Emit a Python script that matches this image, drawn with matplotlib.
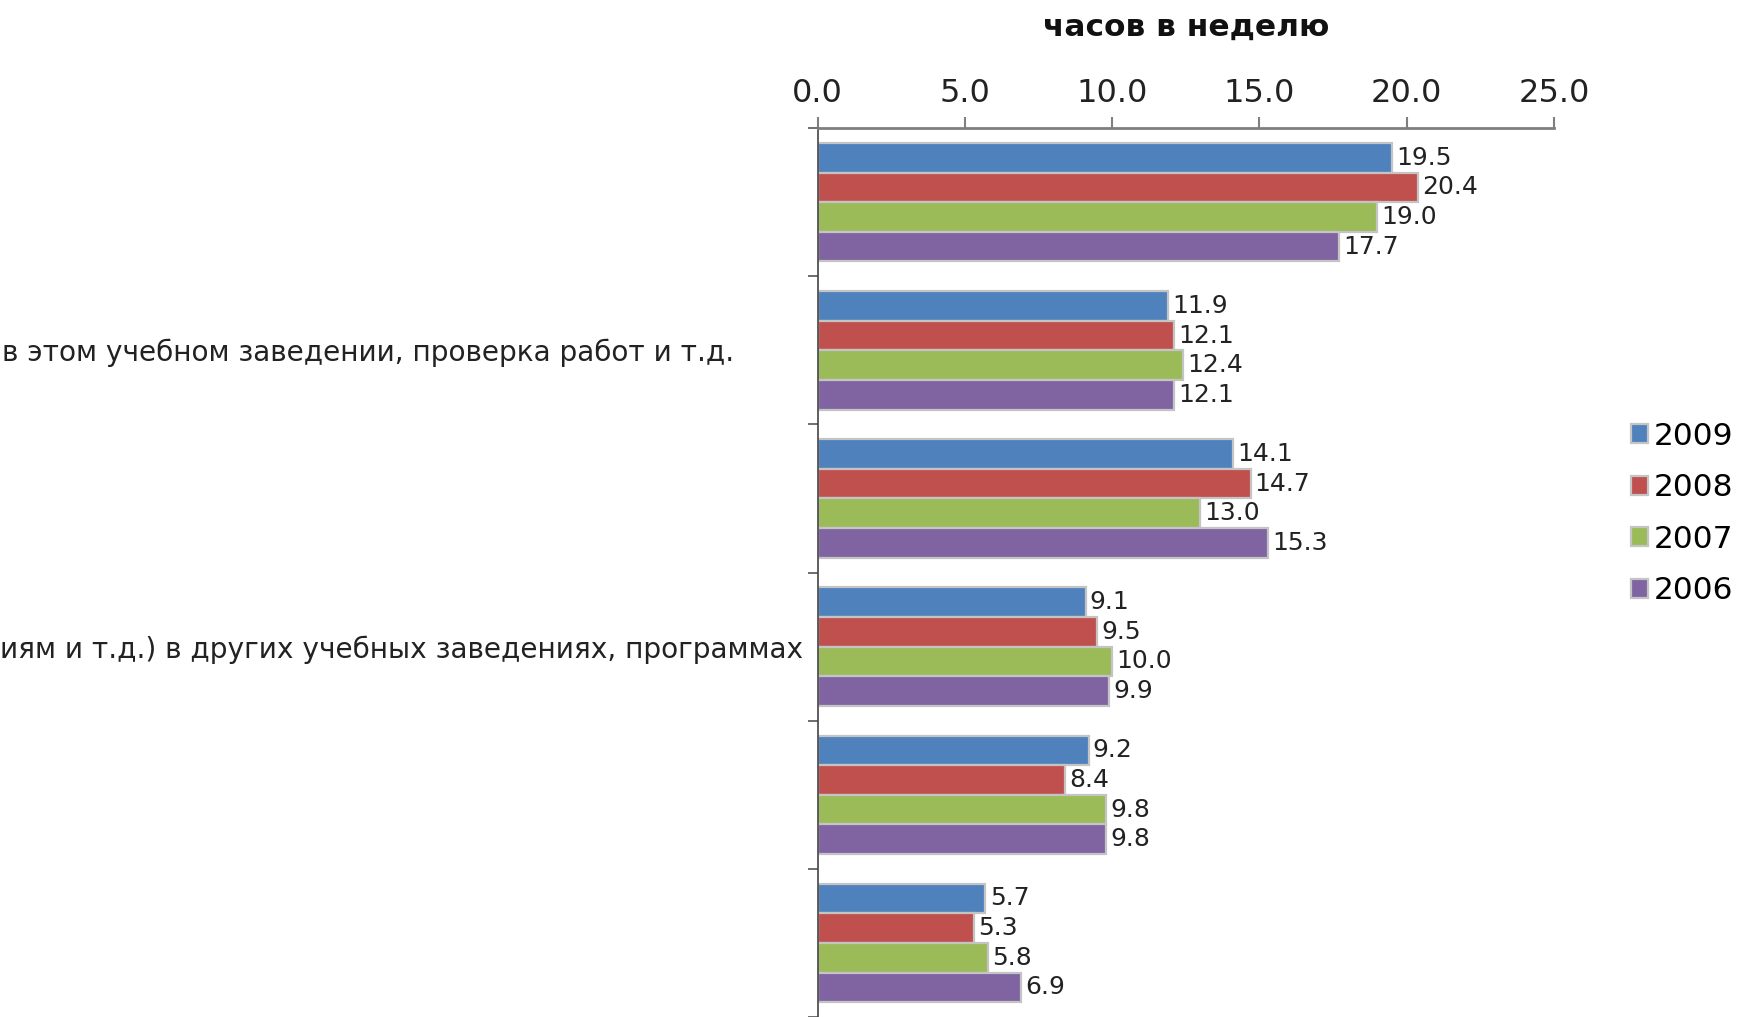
import matplotlib.pyplot as plt
import numpy as np
from matplotlib.transforms import blended_transform_factory

# Chart data
categories = ['', 'в этом учебном заведении, проверка работ и т.д.', '',
              'иям и т.д.) в других учебных заведениях, программах', '', '']
years = ['2009', '2008', '2007', '2006']
hours_2009 = [19.5, 11.9, 14.1, 9.1, 9.2, 5.7]
hours_2008 = [20.4, 12.1, 14.7, 9.5, 8.4, 5.3]
hours_2007 = [19.0, 12.4, 13.0, 10.0, 9.8, 5.8]
hours_2006 = [17.7, 12.1, 15.3, 9.9, 9.8, 6.9]
x_ticks = [0.0, 5.0, 10.0, 15.0, 20.0, 25.0]

series = [hours_2009, hours_2008, hours_2007, hours_2006]
colors = ['#4F81BD', '#C0504D', '#9BBB59', '#8064A2']
# label offsets (points) to the left of the value axis
label_offsets = [0, -52, 0, -2.5, 0, 0]

plt.rcParams['font.family'] = ['DejaVu Sans']

fig = plt.figure(figsize=(17.44, 10.17), dpi=100)
ax = fig.add_axes([0.4688, 0.0, 0.4222, 0.874])

y = np.arange(len(categories))
bar_h = 0.2

for i, (vals, col, yr) in enumerate(zip(series, colors, years)):
    pos = y - 0.3 + bar_h * i
    bars = ax.barh(pos, vals, height=bar_h, color=col,
                   edgecolor='#c4c4c4', linewidth=1.6, label=yr)
    ax.bar_label(bars, fmt='%.1f', padding=3, fontsize=18, color='#222222')

# Axis setup: values on top, categories reversed
ax.set_xlim(x_ticks[0], x_ticks[-1])
ax.set_ylim(len(categories) - 0.5, -0.5)
ax.xaxis.tick_top()
ax.xaxis.set_label_position('top')
ax.set_xticks(x_ticks)
ax.set_xticklabels([f'{v:.1f}' for v in x_ticks], fontsize=23, color='#222222')
ax.tick_params(axis='x', direction='out', length=8, width=1.5,
               color='#7f7f7f', pad=6)
ax.set_xlabel('часов в неделю', fontsize=22.5, fontweight='bold',
              labelpad=30, color='#111111')

ax.set_yticks([])
ax.set_yticks(np.arange(len(categories) + 1) - 0.5, minor=True)
ax.tick_params(axis='y', which='minor', direction='out', length=7,
               width=1.2, color='#555555')

for side in ['right', 'bottom']:
    ax.spines[side].set_visible(False)
ax.spines['top'].set_color('#7f7f7f')
ax.spines['top'].set_linewidth(2)
ax.spines['left'].set_color('#444444')
ax.spines['left'].set_linewidth(1.2)

# Category labels (clipped by the figure edge like in the reference)
trans = blended_transform_factory(ax.transAxes, ax.transData)
for i, (text, off) in enumerate(zip(categories, label_offsets)):
    if text:
        ax.annotate(text, xy=(0, i), xycoords=trans, xytext=(off - 8, -2),
                    textcoords='offset points', ha='right', va='center',
                    fontsize=20.2, color='#222222', annotation_clip=False)

fig.legend(loc='center left', bbox_to_anchor=(0.926, 0.495), frameon=False,
           fontsize=22.5, handlelength=0.55, handleheight=0.55,
           handletextpad=0.2, labelspacing=0.72, borderpad=0)

fig.savefig('out.png', dpi=100)
